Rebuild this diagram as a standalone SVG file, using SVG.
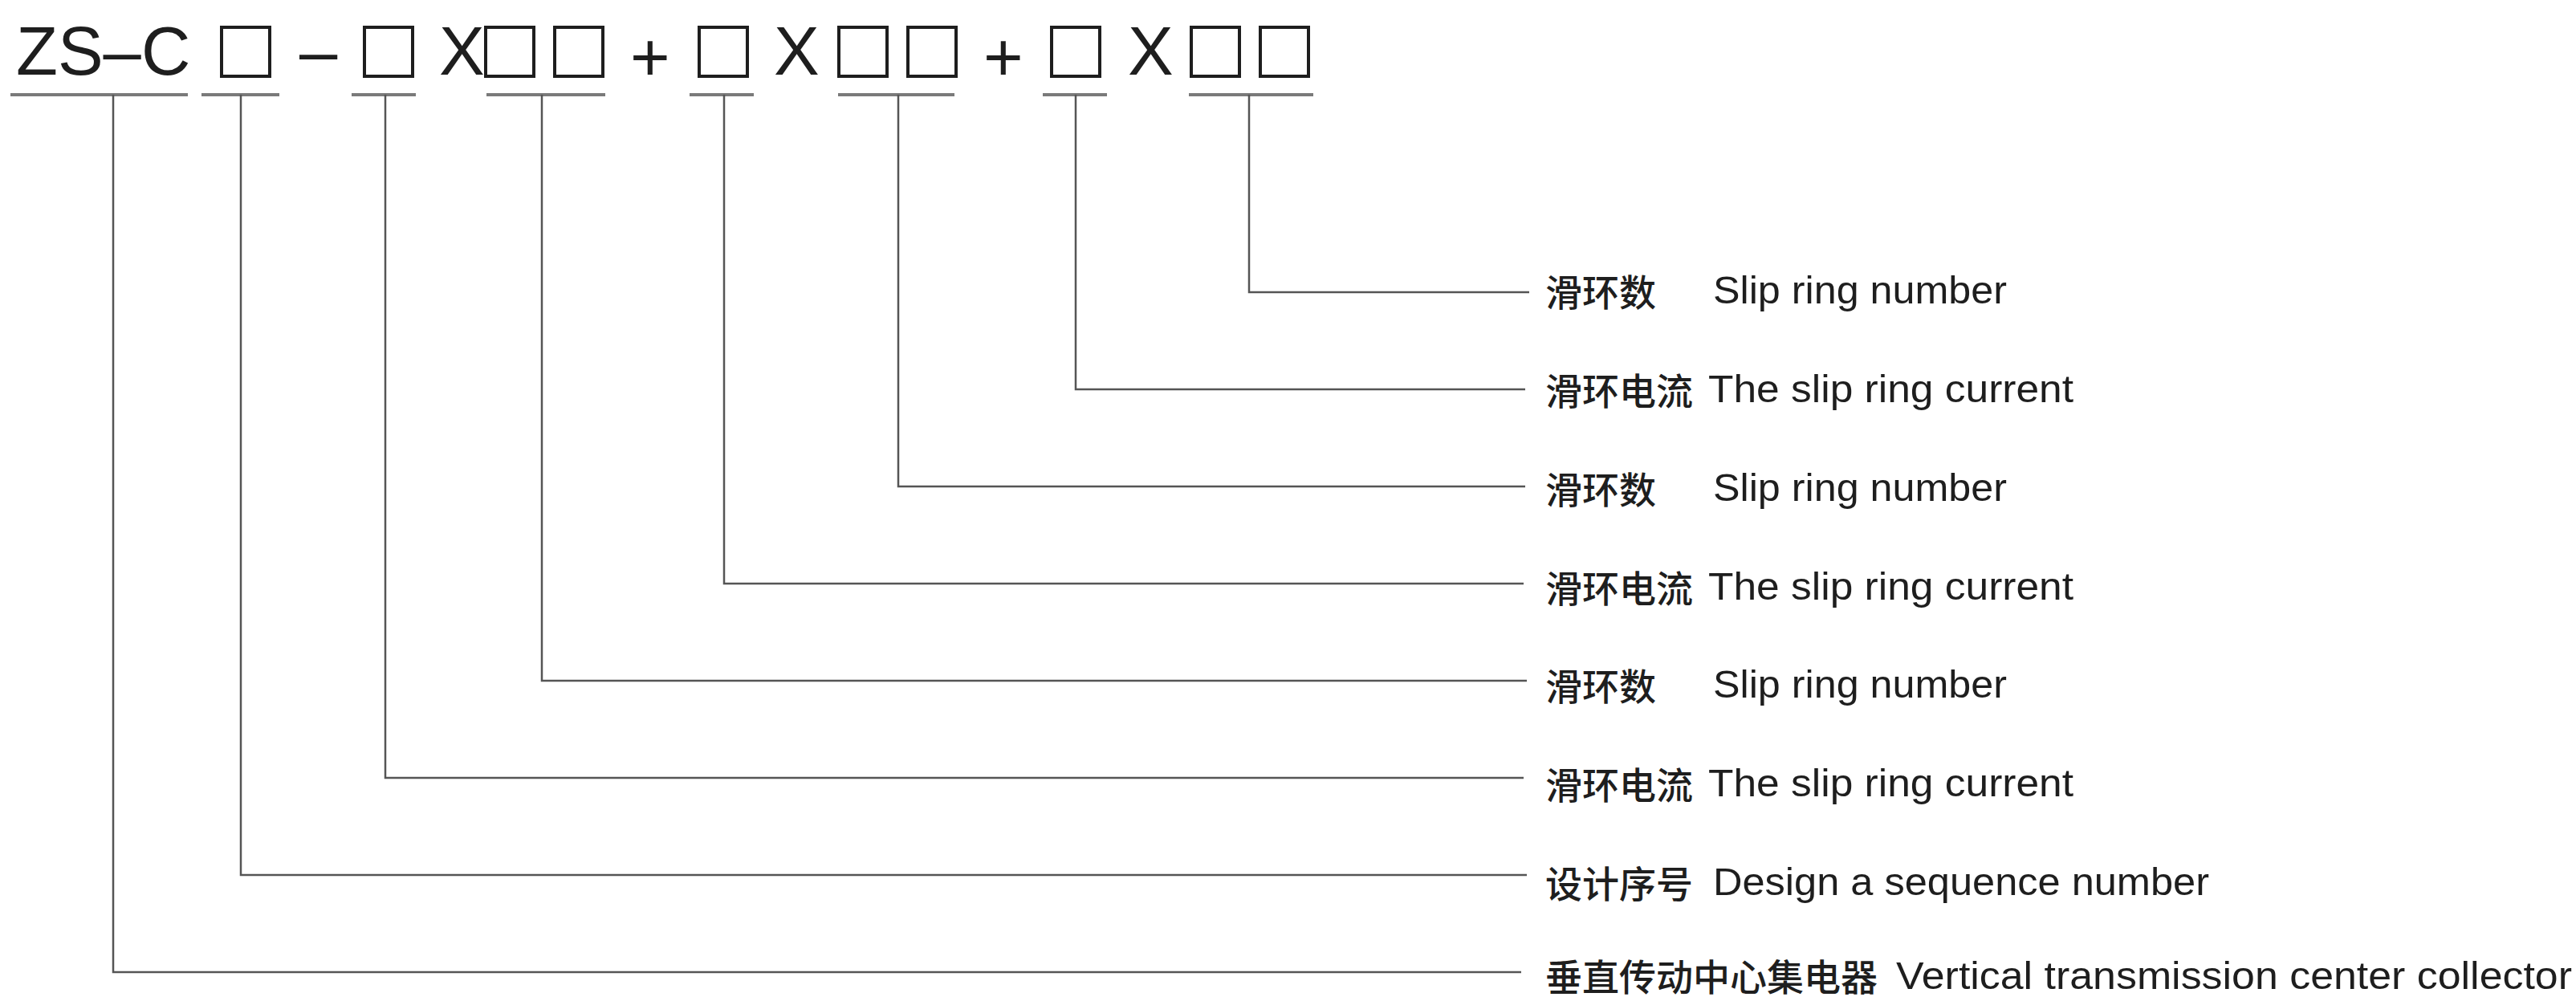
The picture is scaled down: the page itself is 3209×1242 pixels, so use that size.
<svg xmlns="http://www.w3.org/2000/svg" width="3209" height="1242" viewBox="0 0 3209 1242">
<style>
.code{font-family:"Liberation Sans",Arial,sans-serif;font-size:85px;fill:#1e1e1e}
.box{fill:none;stroke:#1e1e1e;stroke-width:4}
.ul{stroke:#7a7a7a;stroke-width:4;fill:none}
.ln{stroke:#555;stroke-width:2.5;fill:none}
.cn{font-family:"Noto Sans CJK SC",sans-serif;font-size:46px;font-weight:500;fill:#1e1e1e}
.en{font-family:"Liberation Sans",Arial,sans-serif;font-size:49px;fill:#1e1e1e}
</style>
<rect width="3209" height="1242" fill="#ffffff"/>
<g id="code">
<text class="code" x="20" y="93">ZS–C</text>
<text class="code" x="373" y="93">–</text>
<text class="code" x="547" y="93">X</text>
<text class="code" x="785" y="101">+</text>
<text class="code" x="964" y="93">X</text>
<text class="code" x="1225" y="101">+</text>
<text class="code" x="1405" y="93">X</text>
<rect class="box" x="276" y="34" width="60" height="61"/>
<rect class="box" x="454" y="34" width="60" height="61"/>
<rect class="box" x="605" y="34" width="60" height="61"/>
<rect class="box" x="691" y="34" width="60" height="61"/>
<rect class="box" x="871" y="34" width="60" height="61"/>
<rect class="box" x="1045" y="34" width="60" height="61"/>
<rect class="box" x="1131" y="34" width="60" height="61"/>
<rect class="box" x="1310" y="34" width="60" height="61"/>
<rect class="box" x="1484" y="34" width="60" height="61"/>
<rect class="box" x="1570" y="34" width="60" height="61"/>
<line class="ul" x1="13" y1="118" x2="234" y2="118"/>
<line class="ul" x1="251" y1="118" x2="348" y2="118"/>
<line class="ul" x1="438" y1="118" x2="518" y2="118"/>
<line class="ul" x1="606" y1="118" x2="754" y2="118"/>
<line class="ul" x1="859" y1="118" x2="939" y2="118"/>
<line class="ul" x1="1044" y1="118" x2="1189" y2="118"/>
<line class="ul" x1="1299" y1="118" x2="1379" y2="118"/>
<line class="ul" x1="1481" y1="118" x2="1636" y2="118"/>
</g>
<g id="connectors">
<polyline class="ln" points="1556,118 1556,364 1905,364"/>
<polyline class="ln" points="1340,118 1340,485 1900,485"/>
<polyline class="ln" points="1119,118 1119,606 1900,606"/>
<polyline class="ln" points="902,118 902,727 1898,727"/>
<polyline class="ln" points="675,118 675,848 1902,848"/>
<polyline class="ln" points="480,118 480,969 1898,969"/>
<polyline class="ln" points="300,118 300,1090 1902,1090"/>
<polyline class="ln" points="141,118 141,1211 1895,1211"/>
</g>
<g id="label1"><text class="cn" x="1925" y="381">滑环数</text><text class="en" x="2134" y="378" textLength="366" lengthAdjust="spacingAndGlyphs">Slip ring number</text></g>
<g id="label2"><text class="cn" x="1925" y="504">滑环电流</text><text class="en" x="2128" y="501" textLength="455" lengthAdjust="spacingAndGlyphs">The slip ring current</text></g>
<g id="label3"><text class="cn" x="1925" y="627">滑环数</text><text class="en" x="2134" y="624" textLength="366" lengthAdjust="spacingAndGlyphs">Slip ring number</text></g>
<g id="label4"><text class="cn" x="1925" y="750">滑环电流</text><text class="en" x="2128" y="747" textLength="455" lengthAdjust="spacingAndGlyphs">The slip ring current</text></g>
<g id="label5"><text class="cn" x="1925" y="872">滑环数</text><text class="en" x="2134" y="869" textLength="366" lengthAdjust="spacingAndGlyphs">Slip ring number</text></g>
<g id="label6"><text class="cn" x="1925" y="995">滑环电流</text><text class="en" x="2128" y="992" textLength="455" lengthAdjust="spacingAndGlyphs">The slip ring current</text></g>
<g id="label7"><text class="cn" x="1925" y="1118">设计序号</text><text class="en" x="2134" y="1115" textLength="618" lengthAdjust="spacingAndGlyphs">Design a sequence number</text></g>
<g id="label8"><text class="cn" x="1925" y="1234">垂直传动中心集电器</text><text class="en" x="2362" y="1232" textLength="842" lengthAdjust="spacingAndGlyphs">Vertical transmission center collector</text></g>
</svg>
